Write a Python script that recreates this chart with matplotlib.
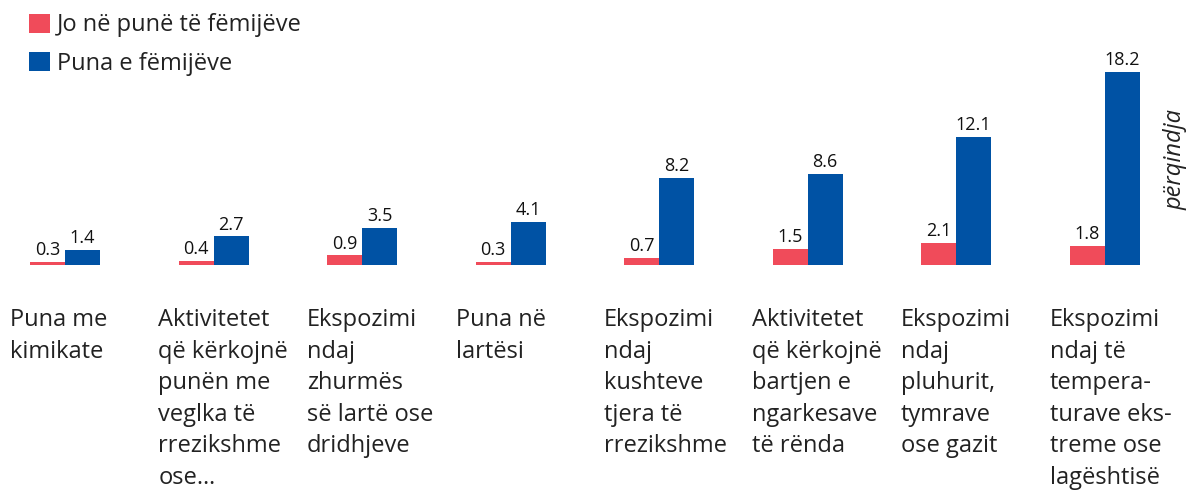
import matplotlib.pyplot as plt
import matplotlib.transforms as mtransforms
import numpy as np

plt.rcParams['font.family'] = ['Open Sans', 'DejaVu Sans']

# data
categories = [
    "Puna me\nkimikate",
    "Aktivitetet\nqë kërkojnë\npunën me\nveglka të\nrrezikshme\nose…",
    "Ekspozimi\nndaj\nzhurmës\nsë lartë ose\ndridhjeve",
    "Puna në\nlartësi",
    "Ekspozimi\nndaj\nkushteve\ntjera të\nrrezikshme",
    "Aktivitetet\nqë kërkojnë\nbartjen e\nngarkesave\ntë rënda",
    "Ekspozimi\nndaj\npluhurit,\ntymrave\nose gazit",
    "Ekspozimi\nndaj të\ntempera-\nturave eks-\ntreme ose\nlagështisë",
]
not_child_labour = [0.3, 0.4, 0.9, 0.3, 0.7, 1.5, 2.1, 1.8]
child_labour = [1.4, 2.7, 3.5, 4.1, 8.2, 8.6, 12.1, 18.2]
series_names = ["Jo në punë të fëmijëve", "Puna e fëmijëve"]

red = "#F04B5A"
blue = "#0052A4"
txt = "#222222"

fig = plt.figure(figsize=(11.89, 4.9), dpi=100)
W, H = 1189, 490
# axes: baseline at y=265px, top at 50px
ax = fig.add_axes([0, (H - 265) / H, 1, 215 / H])
ax.axis("off")

step = 148.5  # px per category
ax.set_xlim(-65 / step, (W - 65) / step)
ax.set_ylim(0, 18.2 * 215 / 193)

x = np.arange(len(categories))
bw = 35 / step
b1 = ax.bar(x - bw / 2, not_child_labour, bw, color=red, label=series_names[0])
b2 = ax.bar(x + bw / 2, child_labour, bw, color=blue, label=series_names[1])
ax.bar_label(b1, fmt="%.1f", padding=2, fontsize=13, color="#111111")
ax.bar_label(b2, fmt="%.1f", padding=2, fontsize=13, color="#111111")

# category labels under bars
trans = mtransforms.blended_transform_factory(ax.transData, fig.transFigure)
for xi, lab in zip(x, categories):
    ax.text(xi - 55 / step, 1 - 308 / H, lab, transform=trans, ha="left", va="top",
            fontsize=17, color=txt, linespacing=1.42, clip_on=False)

# legend
leg = fig.legend(handles=[b1, b2], loc="upper left", bbox_to_anchor=(20 / W, 1 - 4 / H),
                 frameon=False, fontsize=17, handlelength=0.85, handleheight=0.85,
                 handletextpad=0.3, labelspacing=0.6, borderaxespad=0)
for t in leg.get_texts():
    t.set_color(txt)

fig.text(1176 / W, 1 - 160 / H, "përqindja", rotation=90, ha="center", va="center",
         fontsize=17, style="italic", color=txt)

fig.savefig("out.png", dpi=100)
